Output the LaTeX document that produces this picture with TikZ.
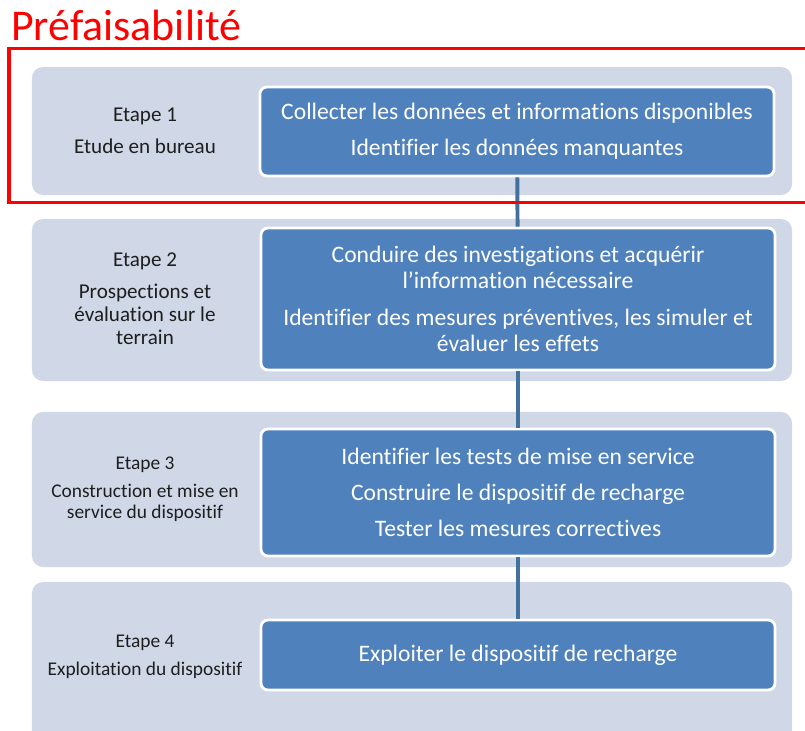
\documentclass[tikz,border=0pt]{standalone}
\usepackage{fontspec}
\setmainfont{Carlito}[Ligatures={NoCommon}]
\usetikzlibrary{positioning}

\definecolor{bandgray}{HTML}{D0D8E8}
\definecolor{boxblue}{HTML}{4F81BD}
\definecolor{linkblue}{HTML}{41719C}
\definecolor{labelblack}{HTML}{1E1E1E}

\begin{document}
\begin{tikzpicture}[x=0.025cm, y=-0.025cm,
    band/.style = {rectangle, rounded corners=8pt, fill=bandgray,
      minimum width=19cm, inner sep=0pt},
    taskbox/.style = {rectangle, rounded corners=5pt, fill=boxblue,
      draw=white, line width=2pt, minimum width=12.85cm,
      text=white, align=center, inner sep=0pt,
      font=\fontsize{16.8}{18.5}\selectfont},
    etape/.style = {align=center, text=labelblack, inner sep=0pt,
      font=\fontsize{15}{16.4}\selectfont},
    etapesmall/.style = {etape, font=\fontsize{13.8}{15}\selectfont},
    link/.style = {draw=linkblue, line width=2.8pt}]
    \useasboundingbox (0,0) rectangle (805,731);

    % title and frame
    \node[anchor=base west, inner sep=0pt, text=red,
      font=\fontsize{31.2}{36}\selectfont] (titre) at (11,40) {Préfaisabilité};

    % bands
    \node[band, minimum height=3.2cm] (band1) at (412,131) {};
    \node[band, minimum height=4.05cm] (band2) at (412,300) {};
    \node[band, minimum height=3.875cm] (band3) at (412,489.5) {};
    \node[band, minimum height=4.075cm] (band4) at (412,663.5) {};

    % step labels
    \node[etape] (label1) at (145,131) {Etape 1\\[6pt] Etude en bureau};
    \node[etape] (label2) at (145,299) {Etape 2\\[6pt] Prospections et\\ évaluation sur le\\ terrain};
    \node[etapesmall] (label3) at (145,489) {Etape 3\\[5pt] Construction et mise en\\ service du dispositif};
    \node[etapesmall] (label4) at (145,657) {Etape 4\\[5pt] Exploitation du dispositif};

    % tasks
    \node[taskbox, minimum height=2.225cm] (box1) at (517,131.5)
      {Collecter les données et informations disponibles\\[7pt]
       Identifier les données manquantes};
    \node[taskbox, minimum height=3.55cm] (box2) at (518,299)
      {Conduire des investigations et acquérir\\ l’information nécessaire\\[7.5pt]
       Identifier des mesures préventives, les simuler et\\ évaluer les effets};
    \node[taskbox, minimum height=3.175cm] (box3) at (518,492.5)
      {Identifier les tests de mise en service\\[7pt]
       Construire le dispositif de recharge\\[7pt]
       Tester les mesures correctives};
    \node[taskbox, minimum height=1.75cm] (box4) at (518,655)
      {Exploiter le dispositif de recharge};

    % links
    \draw[link] (box1) -- (box2);
    \draw[link] (box2) -- (box3);
    \draw[link] (box3) -- (box4);

    \draw[red, line width=2.6pt] (9,48.5) rectangle (815,202.5);
\end{tikzpicture}
\end{document}
